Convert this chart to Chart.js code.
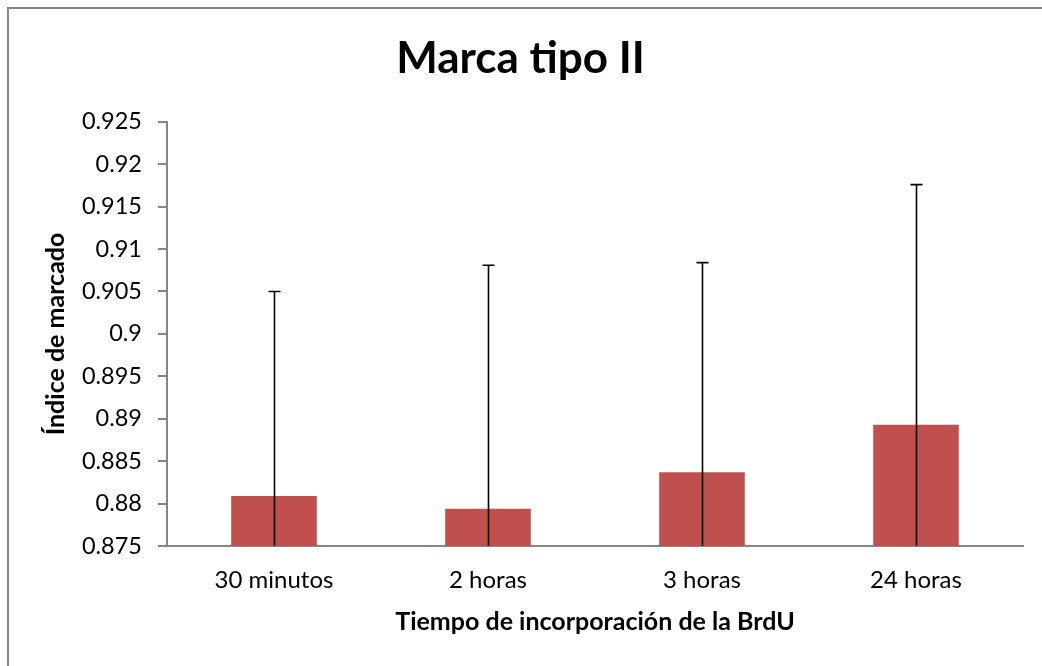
<!DOCTYPE html>
<html>
<head>
<meta charset="utf-8">
<script src="https://cdn.jsdelivr.net/npm/chart.js@4/dist/chart.umd.min.js"></script>
<style>
  html, body { margin: 0; padding: 0; background: #fff; }
  #wrap { width: 1042px; height: 666px; overflow: hidden; }
</style>
</head>
<body>
<div id="wrap"><canvas id="marcaChart" width="1062" height="666"></canvas></div>
<script>
// datos
const categorias = ['30 minutos', '2 horas', '3 horas', '24 horas'];
const indiceMarcado = [0.8809, 0.8794, 0.8837, 0.8893];
const errorEstandar = [0.0241, 0.0287, 0.0247, 0.0283];
const yMin = 0.875;
const yMax = 0.925;
const yPaso = 0.005;

const FONT = 'Lato, "Open Sans", sans-serif';
const AXIS_GREY = '#868686';

// barras de error (arriba y abajo, recortadas al área del gráfico)
const errorBars = {
  id: 'errorBars',
  afterDatasetsDraw(chart) {
    const { ctx, chartArea, scales: { y } } = chart;
    const meta = chart.getDatasetMeta(0);
    ctx.save();
    ctx.beginPath();
    ctx.rect(chartArea.left, chartArea.top - 2, chartArea.right - chartArea.left, chartArea.bottom - chartArea.top + 2);
    ctx.clip();
    ctx.strokeStyle = '#000';
    ctx.lineWidth = 1.6;
    meta.data.forEach((bar, i) => {
      const x = Math.round(bar.x) + 0.5;
      const top = y.getPixelForValue(indiceMarcado[i] + errorEstandar[i]);
      const bottom = y.getPixelForValue(indiceMarcado[i] - errorEstandar[i]);
      ctx.beginPath();
      ctx.moveTo(x, top);
      ctx.lineTo(x, bottom);
      ctx.moveTo(x - 6, top);
      ctx.lineTo(x + 6, top);
      ctx.moveTo(x - 6, bottom);
      ctx.lineTo(x + 6, bottom);
      ctx.stroke();
    });
    ctx.restore();
  }
};

// borde del área del gráfico (sólo se ven izquierda y arriba)
const chartBorder = {
  id: 'chartBorder',
  beforeDraw(chart) {
    const { ctx } = chart;
    ctx.save();
    ctx.strokeStyle = AXIS_GREY;
    ctx.lineWidth = 2;
    ctx.strokeRect(8, 8, 1200, 1000);
    ctx.restore();
  }
};

new Chart(document.getElementById('marcaChart'), {
  type: 'bar',
  data: {
    labels: categorias,
    datasets: [{
      data: indiceMarcado,
      backgroundColor: '#C0504D',
      borderWidth: 0,
      barPercentage: 0.4,
      categoryPercentage: 1
    }]
  },
  options: {
    responsive: false,
    animation: false,
    layout: { padding: { left: 18, right: 39, top: 0, bottom: 0 } },
    plugins: {
      legend: { display: false },
      tooltip: { enabled: false },
      title: {
        display: true,
        text: 'Marca tipo II',
        color: '#000',
        font: { family: FONT, size: 44, weight: 'bold' },
        padding: { top: 32, bottom: 37 }
      }
    },
    scales: {
      x: {
        grid: { display: false, drawTicks: false },
        border: { display: true, color: AXIS_GREY, width: 2 },
        ticks: { color: '#000', font: { family: FONT, size: 24 }, padding: 20, maxRotation: 0 },
        title: {
          display: true,
          text: 'Tiempo de incorporación de la BrdU',
          color: '#000',
          font: { family: FONT, size: 25, weight: 'bold' },
          padding: { top: 8, bottom: 29 }
        },
        afterFit(scale) { scale.height = 120; }
      },
      y: {
        min: yMin,
        max: yMax,
        grid: { drawOnChartArea: false, drawTicks: true, tickLength: 9, color: AXIS_GREY, lineWidth: 2 },
        border: { display: true, color: AXIS_GREY, width: 2 },
        ticks: {
          stepSize: yPaso,
          color: '#000',
          font: { family: FONT, size: 23.5 },
          padding: 16,
          callback: v => String(parseFloat(v.toFixed(3)))
        },
        title: {
          display: true,
          text: 'Índice de marcado',
          color: '#000',
          font: { family: FONT, size: 25, weight: 'bold' },
          padding: { top: 23, bottom: 0 }
        },
        afterFit(scale) { scale.width = 149; }
      }
    }
  },
  plugins: [chartBorder, errorBars]
});
</script>
</body>
</html>
